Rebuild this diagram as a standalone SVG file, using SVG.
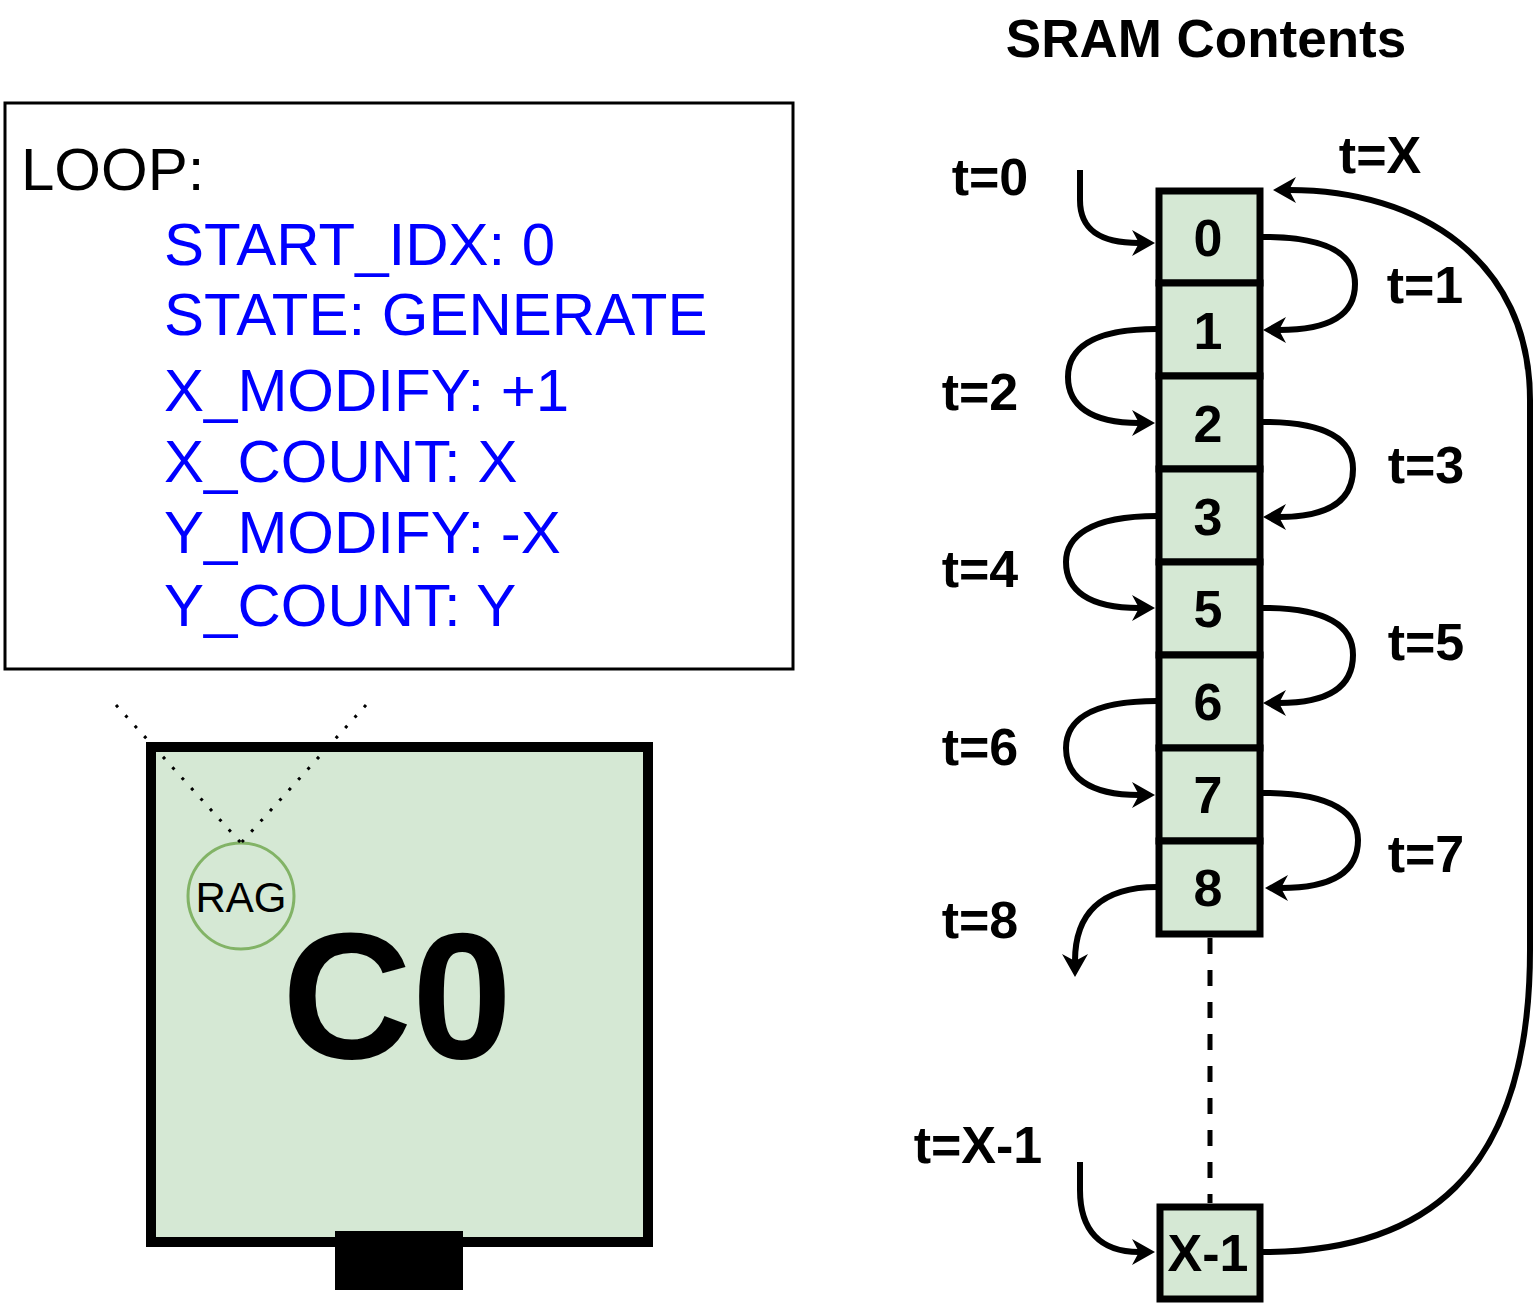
<svg xmlns="http://www.w3.org/2000/svg" width="1538" height="1309" viewBox="0 0 1538 1309">
<style>
.code{font-family:"Liberation Sans",Arial,sans-serif;font-size:60px;fill:#0000ff}
.lbl{font-family:"Liberation Sans",Arial,sans-serif;font-size:52px;font-weight:bold;fill:#000;text-anchor:middle}
.num{font-family:"Liberation Sans",Arial,sans-serif;font-size:52px;font-weight:bold;fill:#000;text-anchor:middle}
.cell{fill:#d5e8d4;stroke:#000;stroke-width:7}
.arr{fill:none;stroke:#000;stroke-width:6;marker-end:url(#ah)}
</style>
<defs>
<marker id="ah" markerUnits="userSpaceOnUse" viewBox="-10 -16 30 32" refX="0" refY="0" markerWidth="30" markerHeight="32" orient="auto" overflow="visible">
<path d="M16 0 L-7 -13 L0 0 L-7 13 Z" fill="#000"/>
</marker>
</defs>
<rect width="1538" height="1309" fill="#fff"/>
<text x="1206" y="57" class="lbl" style="font-size:53px">SRAM Contents</text>
<g id="loop-box">
<rect x="5" y="103" width="788" height="566" fill="#fff" stroke="#000" stroke-width="3"/>
<text x="21" y="190" class="code" style="fill:#000">LOOP:</text>
<text x="164" y="265" class="code">START_IDX: 0</text>
<text x="164" y="335" class="code">STATE: GENERATE</text>
<text x="164" y="411" class="code">X_MODIFY: +1</text>
<text x="164" y="482" class="code">X_COUNT: X</text>
<text x="164" y="553" class="code">Y_MODIFY: -X</text>
<text x="164" y="626" class="code">Y_COUNT: Y</text>
</g>
<g id="core-c0">
<rect x="151" y="747" width="497" height="495" fill="#d5e8d4" stroke="#000" stroke-width="10"/>
<rect x="335" y="1231" width="128" height="59" fill="#000"/>
<text x="397" y="1058" style="font-family:'Liberation Sans',Arial,sans-serif;font-size:180px;font-weight:bold;text-anchor:middle">C0</text>
</g>
<g id="rag">
<circle cx="241" cy="896" r="53" fill="#d5e8d4" stroke="#82b366" stroke-width="3"/>
<text x="241" y="912" style="font-family:'Liberation Sans',Arial,sans-serif;font-size:42px;text-anchor:middle">RAG</text>
</g>
<g id="zoom-lines" fill="none" stroke="#000" stroke-width="3" stroke-dasharray="3 11">
<path d="M116 705 L241 843"/>
<path d="M366 705 L241 843"/>
</g>
<g id="sram">
<g id="cell-0"><rect x="1159" y="191" width="101" height="92" class="cell"/><text x="1208" y="256" class="num">0</text></g>
<g id="cell-1"><rect x="1159" y="283" width="101" height="93" class="cell"/><text x="1208" y="349" class="num">1</text></g>
<g id="cell-2"><rect x="1159" y="376" width="101" height="93" class="cell"/><text x="1208" y="442" class="num">2</text></g>
<g id="cell-3"><rect x="1159" y="469" width="101" height="93" class="cell"/><text x="1208" y="535" class="num">3</text></g>
<g id="cell-5"><rect x="1159" y="562" width="101" height="93" class="cell"/><text x="1208" y="627" class="num">5</text></g>
<g id="cell-6"><rect x="1159" y="655" width="101" height="93" class="cell"/><text x="1208" y="720" class="num">6</text></g>
<g id="cell-7"><rect x="1159" y="748" width="101" height="93" class="cell"/><text x="1208" y="813" class="num">7</text></g>
<g id="cell-8"><rect x="1159" y="841" width="101" height="93" class="cell"/><text x="1208" y="906" class="num">8</text></g>
<g id="cell-x1"><rect x="1160" y="1207" width="100" height="92" class="cell"/><text x="1208" y="1271" class="num">X-1</text></g>
</g>
<g id="connectors">
<path d="M1210 938 L1210 1203" fill="none" stroke="#000" stroke-width="5" stroke-dasharray="16 16"/>
<path class="arr" d="M1080 170 L1080 200 C1080 230 1100 243 1139 243"/>
<path class="arr" d="M1263 237 C1330 237 1355 255 1355 284 C1355 315 1330 330 1279 330"/>
<path class="arr" d="M1157 329 C1090 329 1068 350 1068 377 C1068 405 1090 423 1139 423"/>
<path class="arr" d="M1263 422 C1330 422 1353 442 1353 469 C1353 500 1330 517 1279 517"/>
<path class="arr" d="M1157 516 C1088 516 1066 538 1066 562 C1066 590 1088 608 1139 608"/>
<path class="arr" d="M1263 608 C1330 608 1353 628 1353 655 C1353 686 1330 703 1279 703"/>
<path class="arr" d="M1157 701 C1088 701 1066 722 1066 748 C1066 776 1088 795 1139 795"/>
<path class="arr" d="M1263 793 C1335 793 1358 815 1358 840 C1358 870 1335 888 1281 888"/>
<path class="arr" d="M1157 887 C1100 887 1075 915 1075 961"/>
<path class="arr" d="M1080 1162 L1080 1190 C1080 1230 1100 1252 1139 1252"/>
<path class="arr" d="M1263 1252 C1420 1252 1530 1180 1530 950 L1530 400 C1530 260 1420 190 1289 190"/>
</g>
<g id="labels">
<text x="990" y="195" class="lbl">t=0</text>
<text x="1380" y="173" class="lbl">t=X</text>
<text x="1425" y="303" class="lbl">t=1</text>
<text x="980" y="410" class="lbl">t=2</text>
<text x="1426" y="483" class="lbl">t=3</text>
<text x="980" y="587" class="lbl">t=4</text>
<text x="1426" y="660" class="lbl">t=5</text>
<text x="980" y="765" class="lbl">t=6</text>
<text x="1426" y="872" class="lbl">t=7</text>
<text x="980" y="938" class="lbl">t=8</text>
<text x="978" y="1163" class="lbl">t=X-1</text>
</g>
</svg>
